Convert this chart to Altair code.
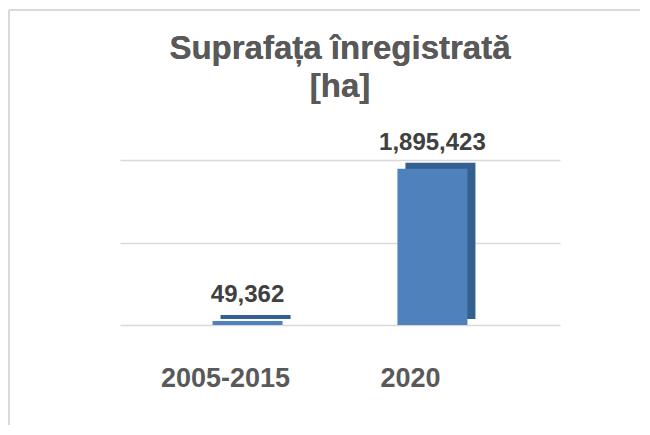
import altair as alt
import pandas as pd

categories = ["2005-2015", "2020"]
values = [49362, 1895423]
labels = ["49,362", "1,895,423"]
title_lines = ["Suprafața înregistrată", "[ha]"]

df = pd.DataFrame({"cat": categories, "val": values, "lab": labels})

FONT = "Liberation Sans"
W, H = 440, 165

x_enc = alt.X("cat:N", sort=categories,
              scale=alt.Scale(paddingInner=0.62, paddingOuter=0.5),
              axis=alt.Axis(title=None, labelAngle=0, domain=False, ticks=False,
                            labelFont=FONT, labelFontSize=27, labelFontWeight="bold",
                            labelColor="#595959", labelPadding=40, labelOffset=-22))
y_enc = alt.Y("val:Q", scale=alt.Scale(domain=[0, 2000000]),
              axis=alt.Axis(title=None, labels=False, ticks=False, domain=False,
                            values=[0, 1000000, 2000000], grid=True,
                            gridColor="#D9D9D9", gridWidth=1.5))

base = alt.Chart(df)

back = base.mark_bar(size=70, color="#34608F", xOffset=8, yOffset=-6).encode(
    x=x_enc, y=y_enc)
front = base.mark_bar(size=70, color="#4F81BD").encode(x=x_enc, y=y_enc)
text = base.mark_text(font=FONT, fontSize=24, fontWeight="bold", color="#404040",
                      dy=-26).encode(x=x_enc, y="val:Q", text="lab:N")

title_style = dict(font=FONT, fontSize=33, fontWeight="bold", color="#595959",
                   align="center", baseline="middle")
t1 = base.mark_text(**title_style).encode(
    x=alt.value(W / 2), y=alt.value(-111), text=alt.value(title_lines[0]))
t2 = base.mark_text(**title_style).encode(
    x=alt.value(W / 2), y=alt.value(-73), text=alt.value(title_lines[1]))

border_left = base.mark_rule(color="#D9D9D9", strokeWidth=2).encode(
    x=alt.value(-111), y=alt.value(-150), y2=alt.value(267))
border_top = base.mark_rule(color="#D9D9D9", strokeWidth=2).encode(
    x=alt.value(-111), x2=alt.value(520), y=alt.value(-150))

chart = alt.layer(border_left, border_top, back, front, text, t1, t2).properties(
    width=W, height=H,
    autosize=alt.AutoSizeParams(type="none"),
    padding={"left": 112, "top": 152, "right": 82, "bottom": 100},
).configure(background="white").configure_view(stroke=None)

chart.save("out.html", embed_options={"renderer": "svg", "actions": False})
